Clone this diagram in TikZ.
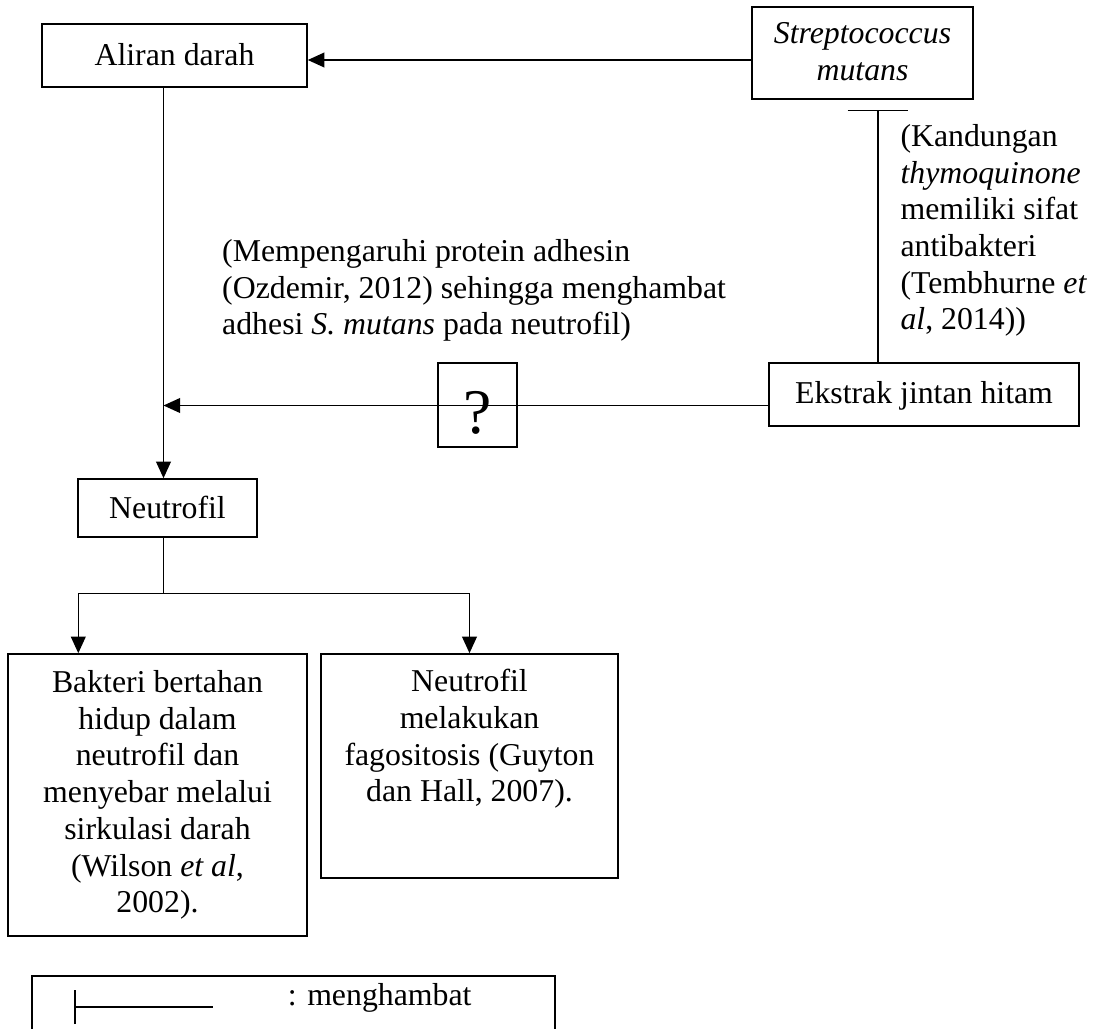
\documentclass[tikz,border=0pt]{standalone}
\usepackage{fontspec}
\setmainfont{Liberation Serif}
\usetikzlibrary{arrows.meta}
\newcommand{\pxu}{0.3774pt}
\begin{document}
\begin{tikzpicture}[x=0.3774pt,y=-0.3774pt,
  box/.style={draw, line width=0.6pt, inner sep=0pt, align=center,
    font=\fontsize{12}{13.85}\selectfont,
    execute at begin node=\rule{0pt}{9pt}, execute at end node=\rule[-1.2pt]{0pt}{0pt}},
  txt/.style={inner sep=0pt, font=\fontsize{12}{13.85}\selectfont,
    execute at begin node=\strut, execute at end node=\strut},
  arr/.style={line width=0.6pt, -{Triangle[length=6.3pt,width=5.6pt]}},
  con/.style={line width=0.6pt}]
\useasboundingbox (0,0) rectangle (1094,1029);
\clip (0,0) rectangle (1094,1029);
\fill[white] (0,0) rectangle (1094,1029);

% boxes
\node[box, minimum width=265*\pxu, minimum height=63*\pxu] (aliran) at (174.5,55.5) {Aliran darah};
\node[box, minimum width=221*\pxu, minimum height=92*\pxu] (strep) at (862.5,53) {\textit{Streptococcus}\\\textit{mutans}};
\node[box, minimum width=310*\pxu, minimum height=63*\pxu] (ekstrak) at (924,394.5) {Ekstrak jintan hitam};
\node[box, minimum width=79*\pxu, minimum height=84*\pxu] (qbox) at (477.5,405) {};
\node[anchor=base, inner sep=0pt, font=\fontsize{24}{28}\selectfont] (qmark) at (477.5,433) {?};
\node[box, minimum width=179*\pxu, minimum height=58*\pxu] (neutro) at (167.5,508) {Neutrofil};
\node[box, minimum width=299*\pxu, minimum height=282*\pxu] (lbox) at (157.5,795) {Bakteri bertahan\\hidup dalam\\neutrofil dan\\menyebar melalui\\sirkulasi darah\\(Wilson \textit{et al},\\2002).};
\node[box, minimum width=297*\pxu, minimum height=224*\pxu] (rbox) at (469.5,766) {};
\node[txt, align=center] (rtext) at (469.5,741) {Neutrofil\\melakukan\\fagositosis (Guyton\\dan Hall, 2007).};

% annotations
\node[txt, align=left, anchor=west] (mtext) at (221.7,292.6) {(Mempengaruhi protein adhesin\\(Ozdemir, 2012) sehingga menghambat\\adhesi \textit{S. mutans} pada neutrofil)};
\node[txt, align=left, anchor=west] (ktext) at (900,232.6) {(Kandungan\\\textit{thymoquinone}\\memiliki sifat\\antibakteri\\(Tembhurne \textit{et}\\\textit{al}, 2014))};

% connectors
\coordinate (join) at (163.5,405.5);
\coordinate (split) at (163.5,593.3);
\coordinate (bl) at (78.3,593.3);
\coordinate (br) at (469.5,593.3);
\coordinate (ix) at (878,0);

\draw[arr] ([yshift=-7*\pxu]strep.west) -- ([yshift=-4.5*\pxu]aliran.east);
\draw[arr] (ekstrak.west |- join) -- (join);
\draw[arr] (aliran.south -| join) -- (neutro.north -| join);
\draw[con] (neutro.south -| split) -- (split);
\draw[arr] (split) -- (bl) -- (lbox.north -| bl);
\draw[arr] (split) -- (br) -- (rbox.north);
\draw[con, -{Bar[width=23pt]}, shorten >=3.77pt] (ekstrak.north -| ix) -- (strep.south -| ix);

% legend
\node[draw, line width=0.6pt, inner sep=0pt, minimum width=523*\pxu, minimum height=120*\pxu, anchor=north west] (legend) at (31,975) {};
\coordinate (ls) at (74,1007);
\coordinate (le) at (213.3,1007);
\draw[con, {Bar[width=12.9pt]}-] (ls) -- (le);
\node[txt, anchor=base west] (legtext) at (287.3,1005) {: menghambat};
\end{tikzpicture}
\end{document}
